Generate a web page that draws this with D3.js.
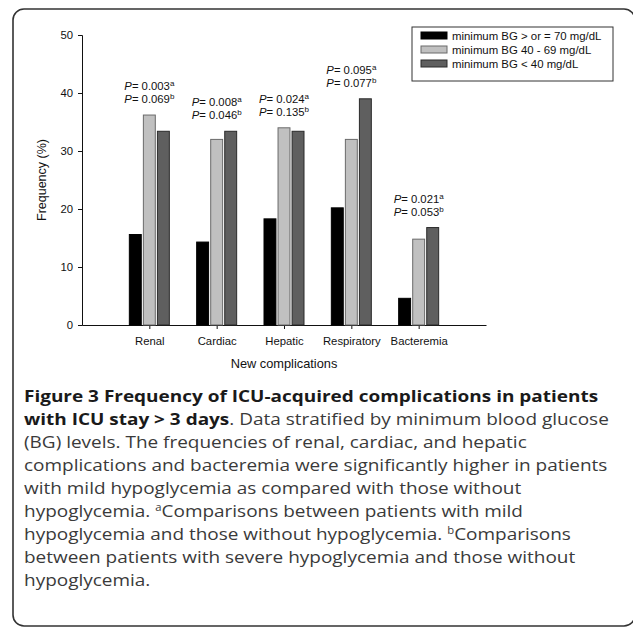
<!DOCTYPE html>
<html>
<head>
<meta charset="utf-8">
<script src="https://cdn.jsdelivr.net/npm/d3@7"></script>
<style>
  body { margin: 0; background: #fff; }
  svg { display: block; }
  .chart text { font-family: "Liberation Sans", Arial, sans-serif; fill: #111; }
  .caption text { font-family: "Open Sans", sans-serif; fill: #3a3a3a; }
</style>
</head>
<body>
<div id="chart"></div>
<script>
// chart values
const categories = ['Renal', 'Cardiac', 'Hepatic', 'Respiratory', 'Bacteremia'];
const series = ['minimum BG > or = 70 mg/dL', 'minimum BG 40 - 69 mg/dL', 'minimum BG < 40 mg/dL'];
const normalBG = [15.6, 14.3, 18.3, 20.2, 4.6];
const mildBG = [36.2, 32.0, 34.0, 32.0, 14.8];
const severeBG = [33.4, 33.4, 33.4, 39.0, 16.8];
const pMild = ['0.003', '0.008', '0.024', '0.095', '0.021'];
const pSevere = ['0.069', '0.046', '0.135', '0.077', '0.053'];
const yTicks = [0, 10, 20, 30, 40, 50];

const captionLines = [
    [{ t: 'Figure 3 Frequency of ICU-acquired complications in patients', b: true }],
    [{ t: 'with ICU stay > 3 days', b: true }, { t: '. Data stratified by minimum blood glucose' }],
    [{ t: '(BG) levels. The frequencies of renal, cardiac, and hepatic' }],
    [{ t: 'complications and bacteremia were significantly higher in patients' }],
    [{ t: 'with mild hypoglycemia as compared with those without' }],
    [{ t: 'hypoglycemia. ' }, { t: 'a', sup: true }, { t: 'Comparisons between patients with mild' }],
    [{ t: 'hypoglycemia and those without hypoglycemia. ' }, { t: 'b', sup: true }, { t: 'Comparisons' }],
    [{ t: 'between patients with severe hypoglycemia and those without' }],
    [{ t: 'hypoglycemia.' }],
];

const width = 633;
const height = 630;
const fills = ['#000000', '#c0c0c0', '#5f5f5f'];
const strokes = ['#000000', '#6a6a6a', '#2a2a2a'];

const svg = d3.select('#chart')
    .append('svg')
    .attr('width', width)
    .attr('height', height);

// rounded frame, the right side runs off the page
svg.append('rect')
    .attr('x', 13)
    .attr('y', 9)
    .attr('width', 622)
    .attr('height', 617)
    .attr('rx', 11)
    .attr('fill', 'none')
    .attr('stroke', '#333')
    .attr('stroke-width', 1.6);

const chart = svg.append('g').attr('class', 'chart');

const plot = { left: 82, right: 486, top: 35, bottom: 325 };

// categories sit at 1..5 on a 0..6 axis
const xScale = d3.scaleLinear().domain([0, categories.length + 1]).range([plot.left, plot.right]);
const yScale = d3.scaleLinear().domain([0, 50]).range([plot.bottom, plot.top]);
const inner = d3.scaleBand().domain(series).range([-20, 20]).paddingInner(0.15);

const rows = categories.map((c, i) => ({
    category: c,
    pos: i + 1,
    values: [normalBG[i], mildBG[i], severeBG[i]],
    pa: pMild[i],
    pb: pSevere[i],
}));

// y axis
const yAxis = d3.axisLeft(yScale).tickValues(yTicks).tickSize(4).tickPadding(5);
const yg = chart.append('g')
    .attr('transform', `translate(${plot.left},0)`)
    .call(yAxis);
yg.select('.domain').attr('stroke', '#111');
yg.selectAll('.tick line').attr('stroke', '#111');
yg.selectAll('.tick text').attr('font-size', 11.3).attr('fill', '#111').attr('font-family', '"Liberation Sans", Arial, sans-serif');

// x axis
const xAxis = d3.axisBottom(xScale)
    .tickValues(rows.map(d => d.pos))
    .tickFormat(d => categories[d - 1])
    .tickSizeInner(4)
    .tickSizeOuter(0)
    .tickPadding(8);
const xg = chart.append('g')
    .attr('transform', `translate(0,${plot.bottom})`)
    .call(xAxis);
xg.select('.domain').attr('stroke', '#111');
xg.selectAll('.tick line').attr('stroke', '#111');
xg.selectAll('.tick text').attr('font-size', 11.3).attr('fill', '#111').attr('font-family', '"Liberation Sans", Arial, sans-serif');

// bars
const groups = chart.append('g').attr('class', 'bars')
    .selectAll('g')
    .data(rows)
    .join('g')
    .attr('transform', d => `translate(${xScale(d.pos)},0)`);

groups.selectAll('rect')
    .data(d => d.values.map((v, k) => ({ v, k })))
    .join('rect')
    .attr('x', d => inner(series[d.k]))
    .attr('width', inner.bandwidth())
    .attr('y', d => yScale(d.v))
    .attr('height', d => yScale(0) - yScale(d.v))
    .attr('fill', d => fills[d.k])
    .attr('stroke', d => strokes[d.k])
    .attr('stroke-width', 1);

// p-value labels above each group
function pLabel(sel, value, letter, dy) {
    const t = sel.append('text')
        .attr('text-anchor', 'middle')
        .attr('font-size', 11.3)
        .attr('y', d => yScale(d3.max(d.values)) + dy);
    t.append('tspan').attr('font-style', 'italic').text('P');
    t.append('tspan').text(d => '= ' + d[value]);
    t.append('tspan').attr('font-size', 8).attr('dy', -4).text(letter);
}
pLabel(groups, 'pa', 'a', -25);
pLabel(groups, 'pb', 'b', -12);

// axis titles
chart.append('text')
    .attr('transform', `translate(46,${(plot.top + plot.bottom) / 2}) rotate(-90)`)
    .attr('text-anchor', 'middle')
    .attr('font-size', 12.5)
    .text('Frequency (%)');

chart.append('text')
    .attr('x', (plot.left + plot.right) / 2)
    .attr('y', 368)
    .attr('text-anchor', 'middle')
    .attr('font-size', 12.8)
    .text('New complications');

// legend
const legend = chart.append('g').attr('transform', 'translate(412,27)');
legend.append('rect')
    .attr('width', 201)
    .attr('height', 54)
    .attr('fill', '#fff')
    .attr('stroke', '#333')
    .attr('stroke-width', 1);

const items = legend.selectAll('g.item')
    .data(series)
    .join('g')
    .attr('class', 'item')
    .attr('transform', (d, i) => `translate(9,${5 + i * 14})`);
items.append('rect')
    .attr('width', 26)
    .attr('height', 7)
    .attr('fill', (d, i) => fills[i])
    .attr('stroke', (d, i) => strokes[i]);
items.append('text')
    .attr('x', 31)
    .attr('y', 7.5)
    .attr('font-size', 11.4)
    .text(d => d);

// caption: the original face is wider than Open Sans, so stretch it a bit
const caption = svg.append('g')
    .attr('class', 'caption')
    .attr('transform', 'translate(24,0) scale(1.13,1)');
caption.selectAll('text')
    .data(captionLines)
    .join('text')
    .attr('x', 0)
    .attr('y', (d, i) => 402 + i * 23)
    .attr('font-size', 16.8)
    .each(function (parts) {
        const el = d3.select(this);
        let afterSup = false;
        parts.forEach(p => {
            const ts = el.append('tspan').text(p.t);
            if (p.b) ts.attr('font-weight', 'bold').attr('fill', '#1a1a1a');
            if (p.sup) {
                ts.attr('font-size', 10).attr('dy', -6);
                afterSup = true;
            } else if (afterSup) {
                ts.attr('dy', 6);
                afterSup = false;
            }
        });
    });
</script>
</body>
</html>
